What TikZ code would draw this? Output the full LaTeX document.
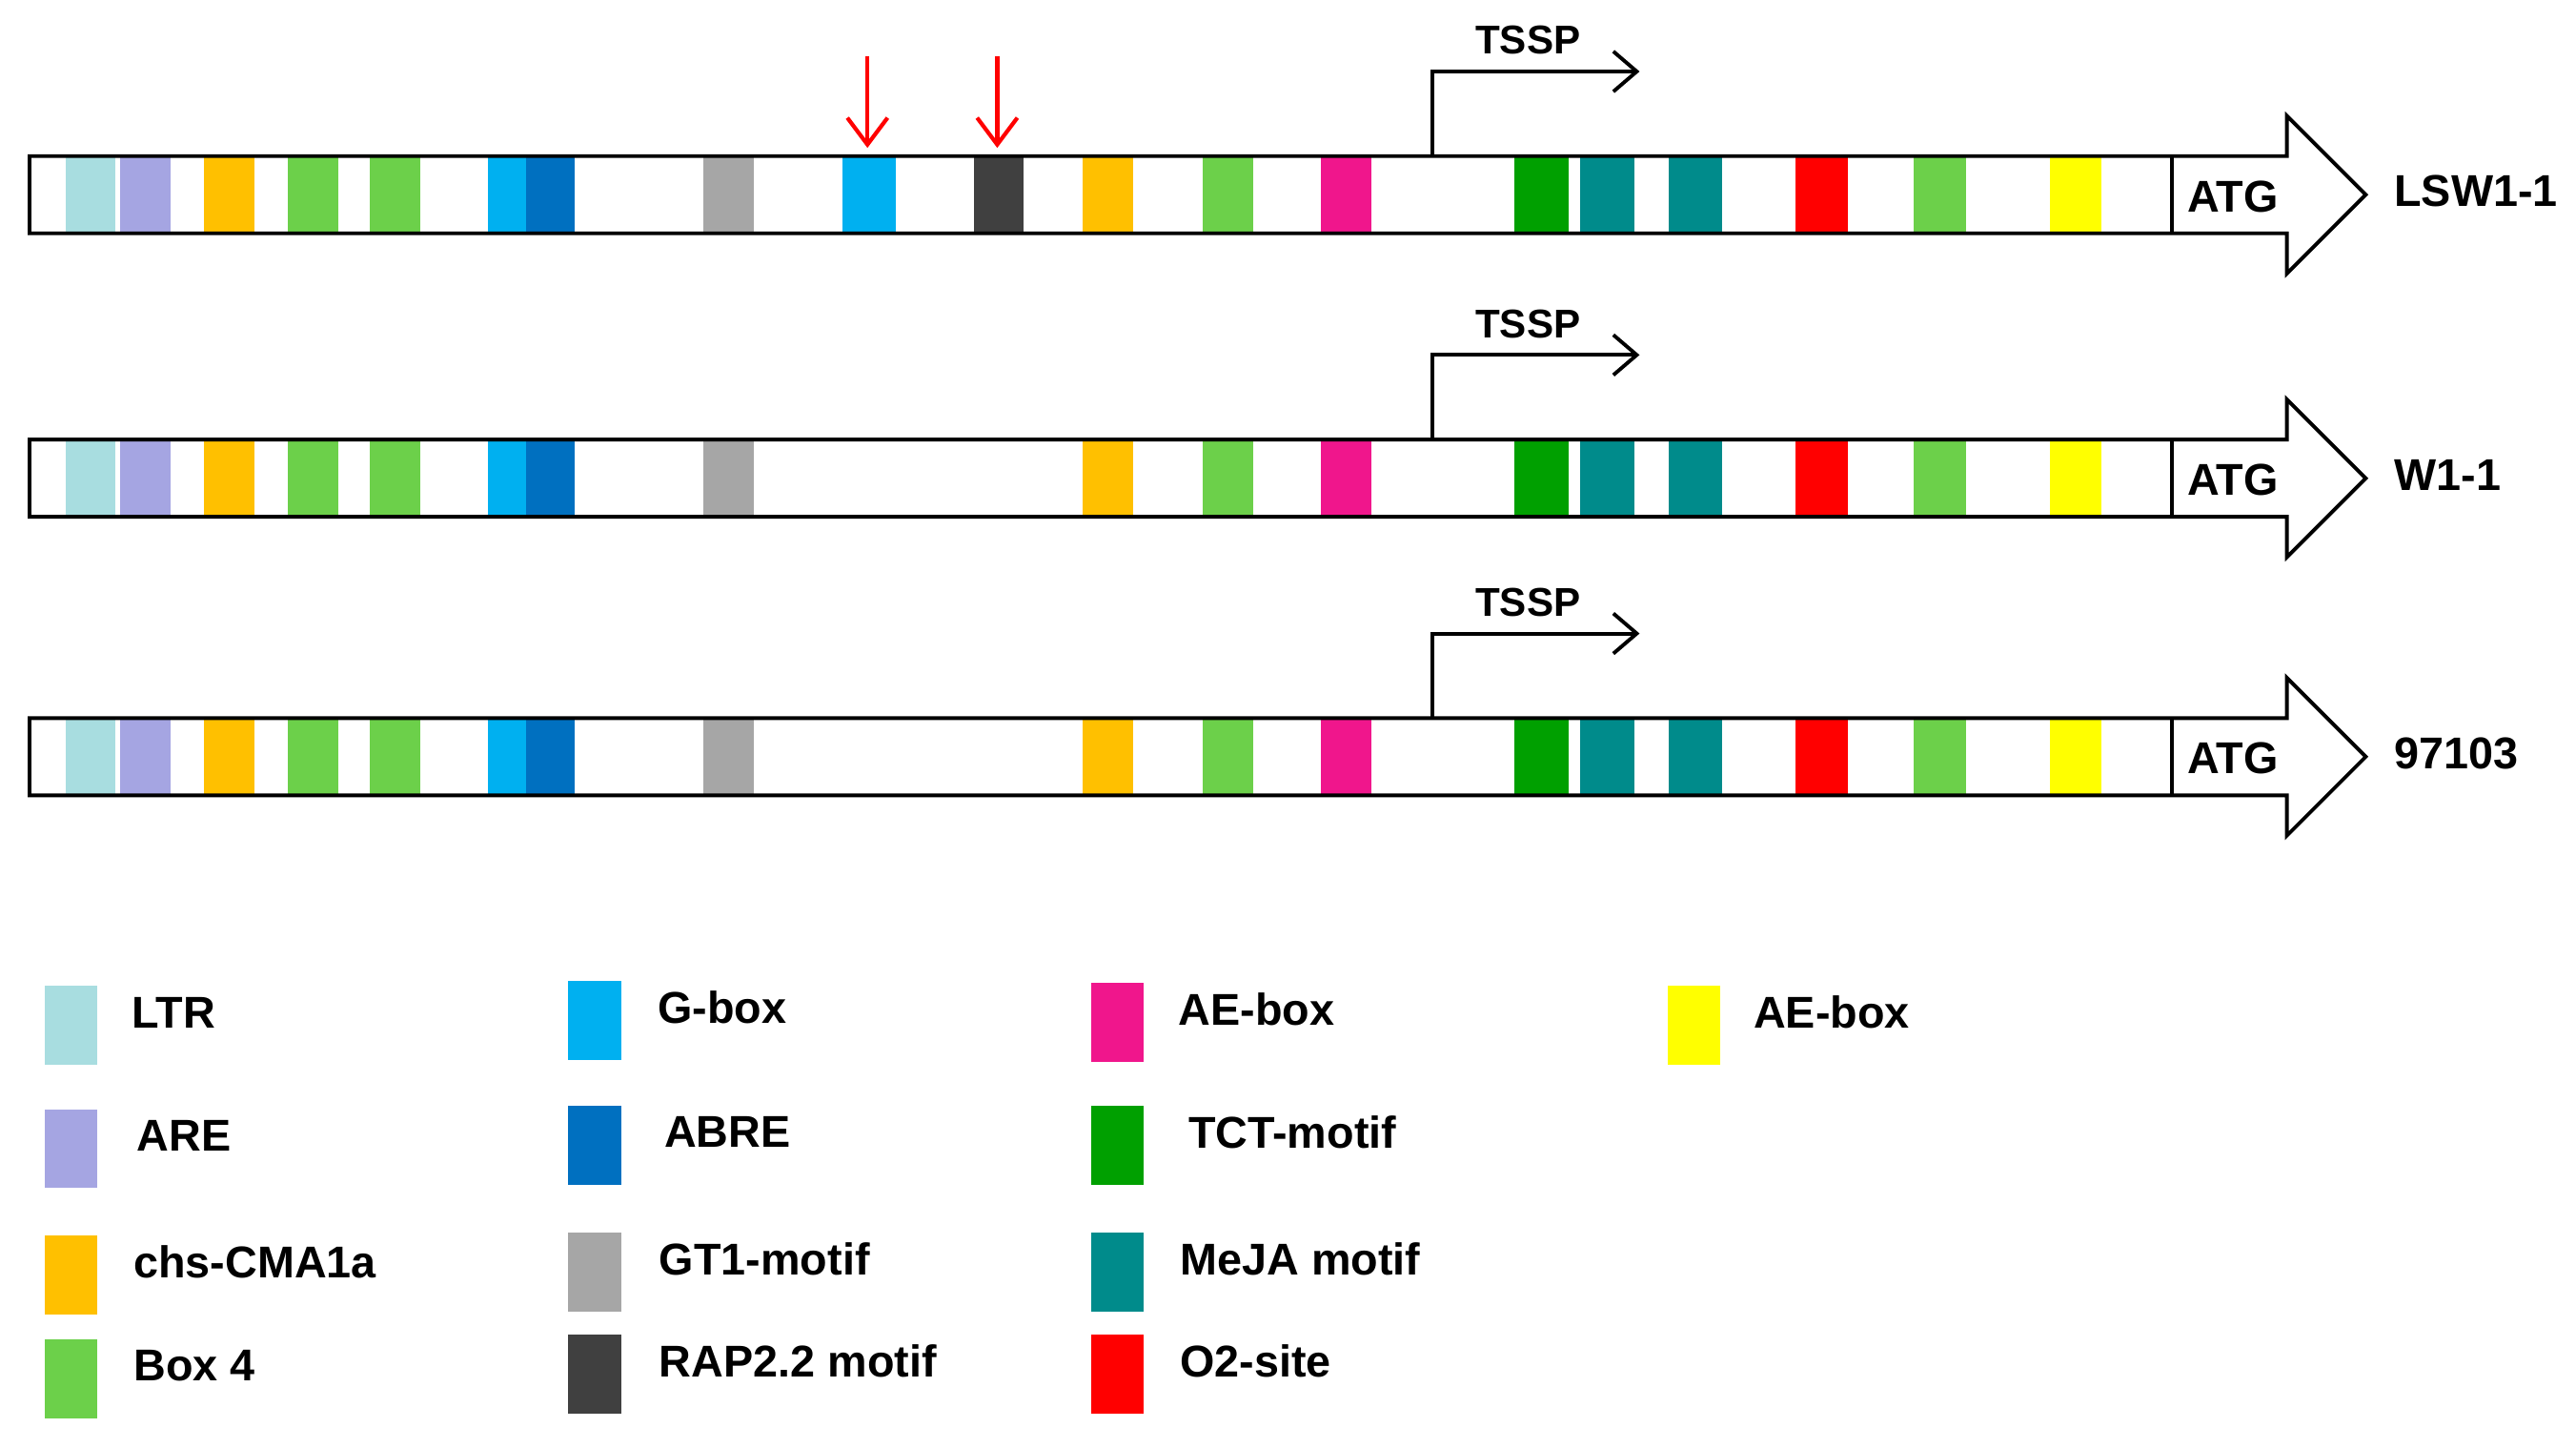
\documentclass[tikz,border=0pt]{standalone}
\usepackage{fontspec}
\setmainfont{Liberation Sans}
\usetikzlibrary{arrows.meta}
\definecolor{cLTR}{HTML}{A8DDE0}
\definecolor{cARE}{HTML}{A5A5E2}
\definecolor{cCHS}{HTML}{FFC000}
\definecolor{cBOX}{HTML}{6CD04A}
\definecolor{cGB}{HTML}{00B0F0}
\definecolor{cABRE}{HTML}{0070C0}
\definecolor{cGT}{HTML}{A6A6A6}
\definecolor{cRAP}{HTML}{404040}
\definecolor{cAE}{HTML}{F0168C}
\definecolor{cTCT}{HTML}{00A000}
\definecolor{cMJ}{HTML}{008B8B}
\definecolor{cO2}{HTML}{FF0000}
\definecolor{cYE}{HTML}{FFFF00}
\tikzset{lab/.style={font=\bfseries\fontsize{13.3}{15}\selectfont,inner sep=0pt},
 tss/.style={font=\bfseries\fontsize{12}{13}\selectfont,inner sep=0pt},
 ln/.style={line width=1.1pt,black}}
\begin{document}
\begin{tikzpicture}[x=0.017239cm,y=-0.017239cm]
\useasboundingbox (0,0) rectangle (1568,880.6);
\newcommand{\bx}[4]{\fill[#4] (#1,#3-23.5) rectangle (#2,#3+23.5);}
\newcommand{\row}[4]{% #1 center y, #2 label, #3 name, #4 extra
 \bx{40}{70}{#1}{cLTR}\bx{73}{104}{#1}{cARE}\bx{124}{155}{#1}{cCHS}
 \bx{175}{206}{#1}{cBOX}\bx{225}{256}{#1}{cBOX}\bx{297}{320}{#1}{cGB}\bx{320}{350}{#1}{cABRE}
 \bx{428}{459}{#1}{cGT}#4
 \bx{659}{690}{#1}{cCHS}\bx{732}{763}{#1}{cBOX}\bx{804}{835}{#1}{cAE}
 \bx{922}{955}{#1}{cTCT}\bx{962}{995}{#1}{cMJ}\bx{1016}{1048}{#1}{cMJ}
 \bx{1093}{1125}{#1}{cO2}\bx{1165}{1197}{#1}{cBOX}\bx{1248}{1279}{#1}{cYE}
 \draw[ln,line join=miter] (18,#1-23.5) -- (1392,#1-23.5) -- (1392,#1-48) -- (1440,#1) -- (1392,#1+48) -- (1392,#1+23.5) -- (18,#1+23.5) -- cycle;
 \draw[ln] (1322,#1-23.5) -- (1322,#1+23.5);
 \node[lab] (#3atg) at (1359,#1+1) {ATG};
 \node[lab,anchor=west] (#3) at (1457,#1-2) {#2};
 \coordinate (#3s) at (872,#1-23.5);
 \coordinate (#3t) at (998,#1-75);
 \draw[ln,-{Straight Barb[length=7pt,width=12pt]}] (#3s) |- (#3t);
 \node[tss] (#3tssp) at (930,#1-94) {TSSP};
}
\row{118.5}{LSW1-1}{r1}{\bx{513}{545}{118.5}{cGB}\bx{593}{623}{118.5}{cRAP}}
\row{291}{W1-1}{r2}{}
\row{460.5}{97103}{r3}{}
\coordinate (a1) at (528,34); \coordinate (b1) at (528,90);
\coordinate (a2) at (607,34); \coordinate (b2) at (607,90);
\draw[red,line width=1.2pt,-{Straight Barb[length=8pt,width=12pt]}] (a1) -- (b1);
\draw[red,line width=1.2pt,-{Straight Barb[length=8pt,width=12pt]}] (a2) -- (b2);
\newcommand{\leg}[6]{\fill[#4] (#1,#2) rectangle (#1+32,#2+48);
 \node[lab,anchor=west] (#6) at (#3,#2+16) {#5};}
\leg{27}{600}{80}{cLTR}{LTR}{l1}
\leg{27}{675}{83}{cARE}{ARE}{l2}
\leg{27}{752}{81}{cCHS}{chs-CMA1a}{l3}
\leg{27}{815}{81}{cBOX}{Box 4}{l4}
\leg{346}{597}{400}{cGB}{G-box}{l5}
\leg{346}{673}{404}{cABRE}{ABRE}{l6}
\leg{346}{750}{401}{cGT}{GT1-motif}{l7}
\leg{346}{812}{401}{cRAP}{RAP2.2 motif}{l8}
\leg{664}{598}{717}{cAE}{AE-box}{l9}
\leg{664}{673}{723}{cTCT}{TCT-motif}{l10}
\leg{664}{750}{718}{cMJ}{MeJA motif}{l11}
\leg{664}{812}{718}{cO2}{O2-site}{l12}
\leg{1015}{600}{1067}{cYE}{AE-box}{l13}
\end{tikzpicture}
\end{document}
